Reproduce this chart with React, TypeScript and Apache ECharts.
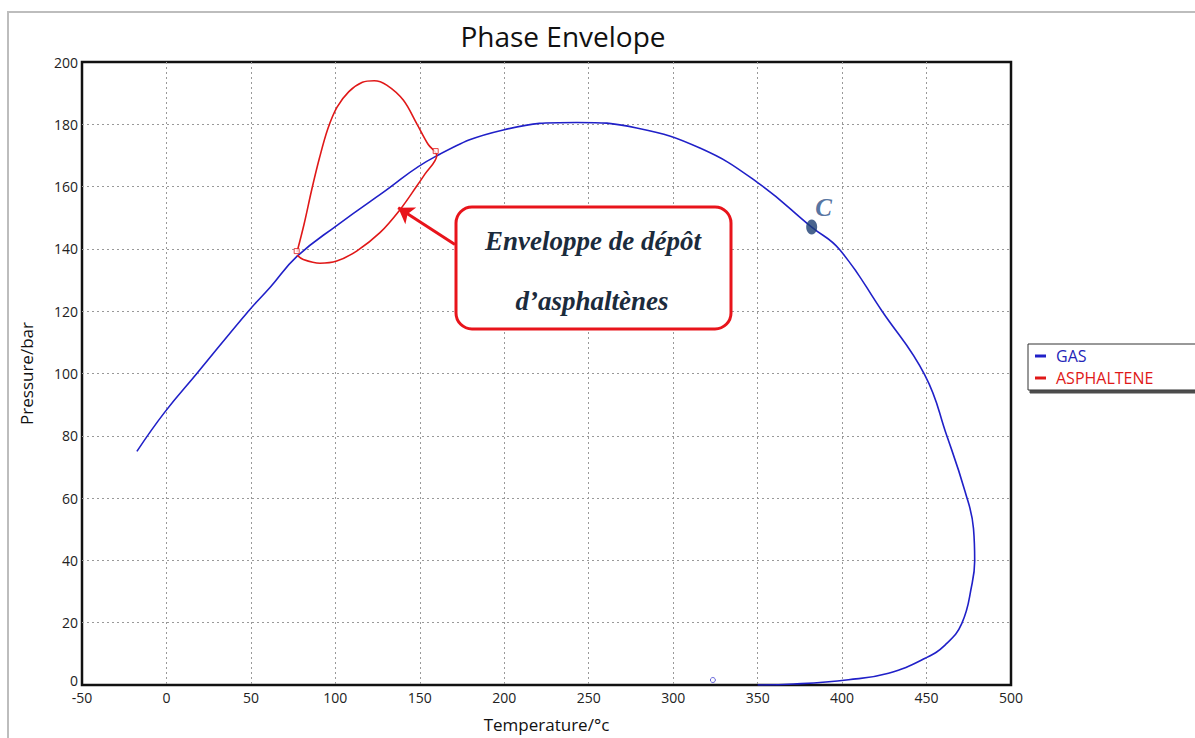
import React, { useEffect, useRef } from "react";
import * as echarts from "echarts";

// GAS phase envelope (temperature °C, pressure bar)
const gasTemperature = [-17.5, -1, 18, 48.5, 61.3, 77.1, 100.8, 126.4, 159.4, 199.4, 242.8, 278.4, 316.5, 350, 382, 398.5, 423.7, 449, 462, 472.8, 477.8, 478.5, 476.8, 470.9, 461.1, 449.2, 427.5, 403.8, 371.5, 350];
const gasPressure = [75, 87.6, 100, 120, 127.6, 137.5, 147.5, 157.4, 169.7, 178.2, 180.6, 178.8, 172.2, 161.3, 147, 139.8, 120, 99.5, 80, 62.1, 50.2, 39.8, 32.1, 19.8, 12.9, 8.6, 3.8, 1.7, 0.3, 0];

// ASPHALTENE deposit envelope (closed loop)
const asphTemperature = [77.3, 81.5, 86, 90.5, 95.5, 101, 108, 116, 123, 130.4, 140.2, 148.1, 155, 160, 153, 148.1, 138.3, 126.4, 112.6, 100.8, 90.9, 81, 77.3];
const asphPressure = [139, 148, 159, 169, 178.5, 185.5, 190.5, 193.5, 194, 192.6, 187.8, 180.3, 173.5, 170, 164, 160.1, 152.6, 145.2, 139.3, 136.1, 135.4, 136.6, 138];

const asphMarkTemperature = [77.1, 159.4];
const asphMarkPressure = [139.3, 171.4];

const criticalPoint = [382, 147];
const lowPoint = [323.5, 1.6];
const arrowTail = [170.8, 141.4];
const arrowTip = [137.2, 153.2];

const SANS = "'Open Sans', 'Noto Sans', sans-serif";
const SERIF = "'Liberation Serif', 'DejaVu Serif', serif";

export default function App() {
  const ref = useRef<HTMLDivElement>(null);
  useEffect(() => {
    const chart = echarts.init(ref.current!, null, { renderer: "svg" });
    const zip = (a: number[], b: number[]) => a.map((v, i) => [v, b[i]]);
    const gridLine = { show: true, showMinLine: false, showMaxLine: false, lineStyle: { color: "#999", width: 1, type: [2, 3] } };
    chart.setOption({
      animation: false,
      backgroundColor: "#fff",
      title: {
        text: "Phase Envelope",
        left: 558,
        top: 17,
        textAlign: "center",
        textStyle: { fontFamily: SANS, fontSize: 28, fontWeight: "normal", color: "#111" },
      },
      legend: {
        data: [
          { name: "GAS", textStyle: { color: "#2424b8" } },
          { name: "ASPHALTENE", textStyle: { color: "#e01818" } },
        ],
        orient: "vertical",
        left: 1028,
        top: 344,
        icon: "rect",
        itemWidth: 11,
        itemHeight: 3,
        itemGap: 6,
        padding: [4, 80, 4, 7],
        backgroundColor: "#fff",
        borderColor: "#333",
        borderWidth: 1,
        shadowColor: "rgba(0,0,0,0.7)",
        shadowOffsetX: 2,
        shadowOffsetY: 3,
        shadowBlur: 1,
        textStyle: { fontFamily: SANS, fontSize: 16, padding: [0, 0, 0, 5] },
      },
      grid: {
        left: 82,
        top: 62,
        right: 184,
        bottom: 51,
        show: true,
        borderColor: "#111",
        borderWidth: 2.5,
      },
      xAxis: {
        type: "value",
        min: -50,
        max: 500,
        interval: 50,
        name: "Temperature/°c",
        nameLocation: "middle",
        nameGap: 31,
        nameTextStyle: { fontFamily: SANS, fontSize: 17, color: "#111" },
        axisLine: { show: false },
        axisTick: { show: false },
        axisLabel: { fontFamily: SANS, fontSize: 14, color: "#222", margin: 5 },
        splitLine: gridLine,
      },
      yAxis: {
        type: "value",
        min: 0,
        max: 200,
        interval: 20,
        name: "Pressure/bar",
        nameLocation: "middle",
        nameGap: 47,
        nameTextStyle: { fontFamily: SANS, fontSize: 17, color: "#111" },
        axisLine: { show: false },
        axisTick: { show: false },
        axisLabel: {
          fontFamily: SANS,
          fontSize: 14,
          color: "#222",
          margin: 4,
          formatter: (v: number) => (v === 0 ? "{z|0}" : String(v)),
          rich: { z: { fontFamily: SANS, fontSize: 14, color: "#222", padding: [0, 0, 10, 0] } },
        },
        splitLine: gridLine,
      },
      series: [
        {
          name: "GAS",
          type: "line",
          data: zip(gasTemperature, gasPressure),
          smooth: 0.45,
          showSymbol: false,
          symbol: "none",
          lineStyle: { color: "#2020c8", width: 1.6 },
          itemStyle: { color: "#2020c8" },
          z: 3,
        },
        {
          name: "ASPHALTENE",
          type: "line",
          data: zip(asphTemperature, asphPressure),
          smooth: 0.35,
          showSymbol: false,
          symbol: "none",
          lineStyle: { color: "#e01818", width: 1.6 },
          itemStyle: { color: "#e01818" },
          z: 4,
          markLine: {
            silent: true,
            symbol: ["none", "arrow"],
            symbolSize: 15,
            label: { show: false },
            lineStyle: { color: "#e8141b", width: 3, type: "solid" },
            data: [[{ coord: arrowTail }, { coord: arrowTip }]],
          },
        },
        {
          name: "asphMarks",
          type: "scatter",
          data: zip(asphMarkTemperature, asphMarkPressure),
          symbol: "rect",
          symbolSize: 5,
          itemStyle: { color: "#fff", borderColor: "#e01818", borderWidth: 1 },
          z: 5,
        },
        {
          name: "critical",
          type: "scatter",
          data: [criticalPoint],
          symbol: "circle",
          symbolSize: [11, 15],
          itemStyle: { color: "#1c3d72" },
          label: {
            show: true,
            formatter: "C",
            position: [9, -25],
            fontFamily: SERIF,
            fontStyle: "italic",
            fontWeight: "bold",
            fontSize: 25,
            color: "#2a5088",
          },
          z: 6,
        },
        {
          name: "low",
          type: "scatter",
          data: [lowPoint],
          symbol: "circle",
          symbolSize: 5,
          itemStyle: { color: "#fff", borderColor: "#4040d0", borderWidth: 1 },
          z: 6,
        },
      ],
      graphic: [
        {
          type: "rect",
          shape: { x: 8, y: 12, width: 1300, height: 900 },
          style: { fill: "none", stroke: "#bdbdbd", lineWidth: 2 },
          silent: true,
          z: 0,
        },
        {
          type: "rect",
          shape: { x: 456, y: 207, width: 275, height: 122, r: 16 },
          style: { fill: "#fff", stroke: "#e8141b", lineWidth: 3 },
          z: 10,
        },
        {
          type: "text",
          x: 593,
          y: 241,
          style: {
            text: "Enveloppe de dépôt",
            fontFamily: SERIF,
            fontStyle: "italic",
            fontWeight: "bold",
            fontSize: 27,
            fill: "#1b2b3c",
            textAlign: "center",
            textVerticalAlign: "middle",
          },
          z: 11,
        },
        {
          type: "text",
          x: 592,
          y: 301,
          style: {
            text: "d’asphaltènes",
            fontFamily: SERIF,
            fontStyle: "italic",
            fontWeight: "bold",
            fontSize: 27,
            fill: "#1b2b3c",
            textAlign: "center",
            textVerticalAlign: "middle",
          },
          z: 11,
        },
      ],
    });
    return () => chart.dispose();
  }, []);
  return (
    <div
      ref={ref}
      style={{ position: "fixed", left: 0, top: 0, width: 1195, height: 738, background: "#fff" }}
    />
  );
}
